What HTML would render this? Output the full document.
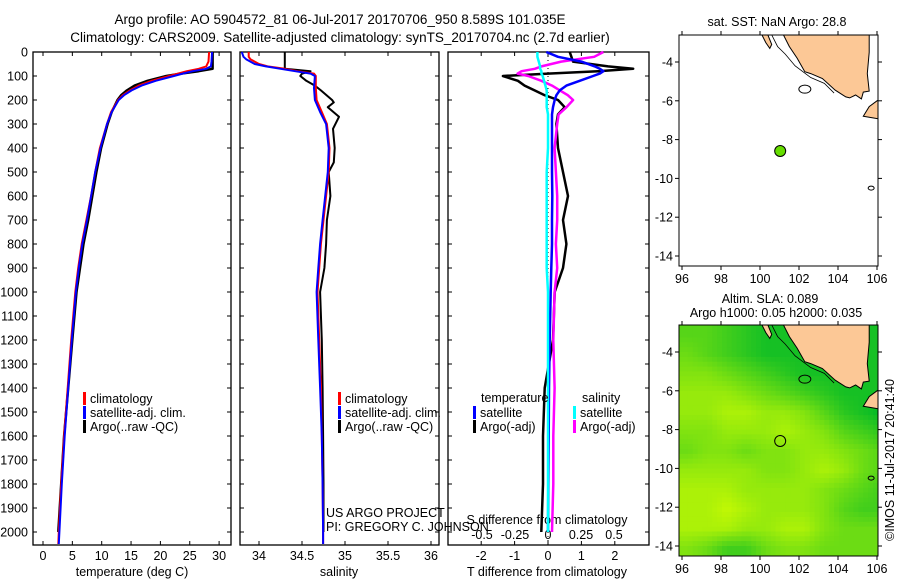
<!DOCTYPE html>
<html><head><meta charset="utf-8"><style>
body{margin:0;background:#fff}
svg{display:block;font-family:"Liberation Sans",sans-serif}
text{fill:#000}
</style></head><body>
<svg id="c" width="900" height="580" viewBox="0 0 900 580" xmlns="http://www.w3.org/2000/svg">
<text x="340" y="24" font-size="13.5" text-anchor="middle">Argo profile: AO 5904572_81 06-Jul-2017 20170706_950 8.589S 101.035E</text>
<text x="340" y="42" font-size="13.5" text-anchor="middle">Climatology: CARS2009. Satellite-adjusted climatology: synTS_20170704.nc (2.7d earlier)</text>
</svg>
<script>
// ---- data ----
const depthTicks=[0,100,200,300,400,500,600,700,800,900,1000,1100,1200,1300,1400,1500,1600,1700,1800,1900,2000];
const tempTicks=[0,5,10,15,20,25,30];
const salTicks=[34,34.5,35,35.5,36];
const tdTicks=[-2,-1,0,1,2];
const sdTicks=[-0.5,-0.25,0,0.25,0.5];
const sdTickLabels=["-0.5","-0.25","0","0.25","0.5"];
const tDepth=[0,40,60,70,80,90,100,120,140,160,180,200,250,300,400,500,600,700,800,900,1000,1200,1400,1600,1800,2000,2050];
const tClim=[28.3,28.2,27.8,26.5,24.5,23,21.5,18.5,16.3,14.8,13.6,12.8,11.6,10.9,9.7,8.9,8.2,7.4,6.6,6.0,5.5,4.8,4.2,3.6,3.1,2.7,2.6];
const tSat=[28.8,28.7,28.6,27.8,25.5,23.8,22.3,19.2,16.8,15.1,13.8,12.9,11.7,10.9,9.8,8.9,8.2,7.5,6.7,6.1,5.6,4.9,4.3,3.7,3.2,2.8,2.7];
const tArgoDepth=[0,40,60,70,80,90,100,120,140,160,180,200,250,300,400,500,600,700,800,900,1000,1200,1400,1600,1800,2000];
const tArgo=[28.9,28.9,28.9,28.9,26.5,23.5,21.0,17.8,15.6,14.3,13.3,12.7,11.7,11.0,9.9,9.1,8.4,7.7,6.9,6.3,5.7,5.0,4.3,3.6,3.1,2.6];
const sDepth=[0,20,30,50,60,70,80,90,100,150,200,250,300,400,500,600,700,800,900,1000,1200,1400,1600,1800,2000,2050];
const sClim=[33.88,33.88,33.9,34.0,34.1,34.3,34.45,34.64,34.66,34.66,34.67,34.73,34.79,34.82,34.81,34.78,34.75,34.72,34.70,34.68,34.70,34.72,34.73,34.74,34.745,34.745];
const sSat=[33.8,33.82,33.85,33.95,34.08,34.25,34.42,34.6,34.65,34.64,34.65,34.71,34.78,34.81,34.8,34.77,34.74,34.71,34.69,34.67,34.69,34.71,34.73,34.74,34.745,34.745];
const sArgoDepth=[0,60,70,80,90,100,120,140,160,200,210,230,270,320,400,460,500,600,700,800,900,1000,1200,1400,1600,1800,2000];
const sArgo=[34.3,34.3,34.3,34.6,34.5,34.48,34.55,34.65,34.72,34.85,34.87,34.8,34.93,34.86,34.88,34.87,34.81,34.83,34.79,34.78,34.76,34.71,34.73,34.74,34.745,34.75,34.75];
const dDepth=[0,20,40,60,70,80,90,100,120,140,160,180,200,230,260,300,400,500,600,700,800,900,1000,1200,1400,1600,1800,2000];
const dTsat=[-0.05,0.3,1.0,1.4,1.55,1.66,1.55,1.35,0.95,0.55,0.35,0.25,0.2,0.15,0.12,0.12,0.12,0.12,0.13,0.12,0.12,0.1,0.08,0.05,0.03,0.02,0.01,0.0];
const dTargo=[0.65,0.7,0.75,1.8,2.55,1.5,0,-1.35,-0.9,-0.7,-0.4,-0.1,0.3,0.5,0.3,0.25,0.3,0.45,0.6,0.45,0.55,0.45,0.2,0.15,-0.1,-0.15,-0.15,-0.2];
const dSsat=[-0.08,-0.08,-0.07,-0.06,-0.06,-0.05,-0.05,-0.04,-0.03,-0.02,-0.01,-0.01,-0.01,-0.01,0,0,0,-0.01,-0.01,-0.01,-0.01,-0.01,0,0,0,0,0,0];
const dSargo=[0.42,0.35,0.1,-0.05,-0.1,-0.2,-0.23,-0.15,-0.05,0.03,0.09,0.15,0.19,0.14,0.08,0.07,0.05,0.06,0.07,0.07,0.06,0.07,0.05,0.04,0.05,0.04,0.04,0.03];
const lonTicks=[96,98,100,102,104,106];
const latTicks=[-4,-6,-8,-10,-12,-14];
const argoLon=101.035, argoLat=-8.589;
const slaGrid=[
[0.4,0.4,0.3,0.2,0.1,0.1,0.1,0.1,0.1,0.1,0.1],
[0.5,0.4,0.3,0.2,0.1,0.1,0.1,0.1,0.1,0.1,0.1],
[0.6,0.6,0.5,0.4,0.3,0.2,0.1,0.1,0.1,0.1,0.1],
[0.7,0.7,0.7,0.6,0.5,0.4,0.3,0.2,0.1,0.1,0.1],
[0.7,0.7,0.8,0.8,0.7,0.7,0.6,0.4,0.2,0.1,0.0],
[0.6,0.6,0.7,0.7,0.7,0.8,0.7,0.6,0.4,0.3,0.2],
[0.5,0.6,0.6,0.5,0.6,0.6,0.7,0.7,0.6,0.5,0.4],
[0.7,0.7,0.7,0.7,0.6,0.6,0.7,0.8,0.7,0.5,0.4],
[0.8,0.8,0.8,0.7,0.7,0.7,0.7,0.6,0.5,0.4,0.3],
[0.8,0.8,0.9,0.8,0.7,0.7,0.7,0.6,0.4,0.3,0.3],
[0.8,0.8,0.8,0.7,0.7,0.8,0.8,0.6,0.5,0.5,0.5],
[0.6,0.5,0.3,0.3,0.5,0.6,0.6,0.5,0.5,0.5,0.5]];
const landLonLat=[[101.2,-2.6],[105.6,-2.6],[105.6,-3.5],[105.5,-4.6],[105.6,-5.5],[105.3,-5.55],[105.2,-5.9],[104.9,-5.7],[104.6,-5.85],[104.4,-5.8],[103.85,-5.45],[103.2,-4.85],[102.6,-4.6],[102.3,-4.5],[101.9,-3.8],[101.5,-3.2],[101.2,-2.6]];
const javaLonLat=[[106.2,-5.9],[106.2,-6.95],[105.9,-6.9],[105.3,-6.8],[105.6,-6.3],[106.0,-6.0]];
const islandLonLat=[[100.1,-2.6],[100.4,-2.6],[100.6,-3.1],[100.5,-3.3],[100.3,-3.0]];

const svg=document.getElementById('c');
const NS='http://www.w3.org/2000/svg';
function mk(tag,attrs,parent){const e=document.createElementNS(NS,tag);for(const k in attrs)e.setAttribute(k,attrs[k]);(parent||svg).appendChild(e);return e;}
function txt(x,y,s,size,anchor,parent){const t=mk('text',{x:x,y:y,'font-size':size||12,'text-anchor':anchor||'middle'},parent);t.textContent=s;return t;}

// ---- profile panels ----
const yTop=52, yPx=0.24;
const Y=d=>yTop+d*yPx;
const panels=[
 {name:'temperature',l:33,r:231,x:v=>43+5.87*v,ticks:tempTicks},
 {name:'salinity',l:240,r:439,x:v=>259+86*(v-34),ticks:salTicks},
 {name:'difference',l:448,r:649,x:v=>548+33.4*v,ticks:tdTicks}];
const bottom=545;
panels.forEach((p,i)=>{
  const g=mk('g',{});
  
  
  const fr=mk('rect',{x:p.l,y:yTop,width:p.r-p.l,height:bottom-yTop,fill:'none',stroke:'#000','stroke-width':1.3},g);
  
  
  p.ticks.forEach(t=>{const x=p.x(t);
    mk('line',{x1:x,x2:x,y1:yTop,y2:yTop+4,stroke:'#000'},g);
    mk('line',{x1:x,x2:x,y1:bottom,y2:bottom-4,stroke:'#000'},g);
    const lb=txt(x,560,String(t),12.5,'middle',g);
    
    
  });
  depthTicks.forEach(d=>{
    mk('line',{x1:p.l,x2:p.l+4,y1:Y(d),y2:Y(d),stroke:'#000'},g);
    mk('line',{x1:p.r,x2:p.r-4,y1:Y(d),y2:Y(d),stroke:'#000'},g);
  });
  p.g=g;
});
depthTicks.forEach(d=>{const t=txt(28,Y(d)+4.5,String(d),12.5,'end');
  
  });
let t;
t=txt(132,576,'temperature (deg C)',12.5);
t=txt(339,576,'salinity',12.5);
t=txt(547,576,'T difference from climatology',12.5);
t=txt(547,524,'S difference from climatology',12.5);
sdTicks.forEach((s,i)=>{const tt=txt(548+132*s,539,sdTickLabels[i],12.5);
  
  });
const zl=mk('line',{x1:548,x2:548,y1:yTop,y2:bottom,stroke:'#000','stroke-dasharray':'1 3'});



function series(depths,vals,xf,color,w,name){
  let d='';const n=Math.min(depths.length,vals.length);
  for(let i=0;i<n;i++){d+=(i?'L':'M')+xf(vals[i]).toFixed(1)+' '+Y(depths[i]).toFixed(1);}
  const p=mk('path',{d:d,fill:'none',stroke:color,'stroke-width':w,'stroke-linejoin':'round'});
  
  
}
const xT=panels[0].x, xS=panels[1].x, xD=panels[2].x, xSD=v=>548+132*v;
series(tArgoDepth,tArgo,xT,'#000',2.5,'temp-argo-line');
series(tDepth,tClim,xT,'#f00',2,'temp-climatology-line');
series(tDepth,tSat,xT,'#00f',2,'temp-satellite-line');
series(sArgoDepth,sArgo,xS,'#000',2,'sal-argo-line');
series(sDepth,sClim,xS,'#f00',2,'sal-climatology-line');
series(sDepth,sSat,xS,'#00f',2,'sal-satellite-line');
series(dDepth,dTargo,xD,'#000',2.5,'tdiff-argo-line');
series(dDepth,dSargo,xSD,'#f0f',2.5,'sdiff-argo-line');
series(dDepth,dTsat,xD,'#00f',2.5,'tdiff-satellite-line');
series(dDepth,dSsat,xSD,'#0ff',2.5,'sdiff-satellite-line');

function legend(x,y,color,label,name){
  const g=mk('g',{});
  
  
  mk('rect',{x:x,y:y-11,width:3,height:13,fill:color},g);
  if(label)txt(x+7,y,label,12.5,'start',g);
}
legend(83,403,'#f00','climatology','legend-climatology');
legend(83,417,'#00f','satellite-adj. clim.','legend-satellite');
legend(83,431,'#000','Argo(..raw -QC)','legend-argo');
legend(338,403,'#f00','climatology','legend-sal-climatology');
legend(338,417,'#00f','satellite-adj. clim.','legend-sal-satellite');
legend(338,431,'#000','Argo(..raw -QC)','legend-sal-argo');
t=txt(481,402,'temperature',12.5,'start');
t=txt(582,402,'salinity',12.5,'start');
legend(473,417,'#00f','satellite','legend-tdiff-satellite');
legend(473,431,'#000','Argo(-adj)','legend-tdiff-argo');
legend(573,417,'#0ff','satellite','legend-sdiff-satellite');
legend(573,431,'#f0f','Argo(-adj)','legend-sdiff-argo');
t=txt(326,517,'US ARGO PROJECT',12.5,'start');
t=txt(326,531,'PI: GREGORY C. JOHNSON',12.5,'start');

// ---- maps ----
function slaAt(lat,lon){
  let fi=(-3.1-lat), fj=(lon-96.3);
  fi=Math.max(0,Math.min(slaGrid.length-1,fi)); fj=Math.max(0,Math.min(slaGrid[0].length-1,fj));
  const i0=Math.floor(fi),j0=Math.floor(fj),i1=Math.min(i0+1,slaGrid.length-1),j1=Math.min(j0+1,slaGrid[0].length-1);
  const a=fi-i0,b=fj-j0;
  return slaGrid[i0][j0]*(1-a)*(1-b)+slaGrid[i0][j1]*(1-a)*b+slaGrid[i1][j0]*a*(1-b)+slaGrid[i1][j1]*a*b;
}
function drawMap(top,lat4y,name,heat){
  const L=679,R=878,B=top+231;
  const mx=lon=>682+(lon-96)*19.5, my=lat=>lat4y+(-4-lat)*19.4;
  const g=mk('g',{});
  
  
  const cp='clip'+name;
  const cl=mk('clipPath',{id:cp},g);mk('rect',{x:L,y:top,width:R-L,height:B-top},cl);
  const inner=mk('g',{'clip-path':'url(#'+cp+')'},g);
  mk('rect',{x:L,y:top,width:R-L,height:B-top,fill:'#fff'},inner);
  if(heat){
    const st=0.25;
    for(let lat=-2.5;lat>-14.8;lat-=st){
      for(let lon=95.8;lon<106.4;lon+=st){
        const v=slaAt(lat-st/2,lon+st/2);
        const r=Math.round(215*v),gg=Math.round(185+70*v),b=Math.round(40*(1-v));
        const c=mk('rect',{x:mx(lon).toFixed(1),y:my(lat).toFixed(1),width:5.3,height:5.3,fill:`rgb(${r},${gg},${b})`},inner);
        
        
      }
    }
  }
  const poly=(pts,fill,nm)=>{const p=mk('polygon',{points:pts.map(q=>mx(q[0]).toFixed(1)+','+my(q[1]).toFixed(1)).join(' '),fill:fill,stroke:'#000','stroke-width':1},inner);
    
    };
  poly(landLonLat,'#fcc896','land-sumatra');
  poly(javaLonLat,'#fcc896','land-java');
  poly(islandLonLat,'#fcc896','land-island');
  const cpts=[[100.6,-2.6],[100.9,-3.2],[101.3,-3.6],[101.8,-4.2],[102.6,-4.8],[103.3,-5.1],[103.8,-5.6]];
  mk('polyline',{points:cpts.map(q=>mx(q[0])+','+my(q[1])).join(' '),fill:'none',stroke:'#000','stroke-width':0.8},inner);
  mk('ellipse',{cx:mx(102.3),cy:my(-5.4),rx:6,ry:4,fill:'none',stroke:'#000'},inner);
  mk('ellipse',{cx:mx(105.7),cy:my(-10.5),rx:3,ry:2,fill:'none',stroke:'#000'},inner);
  const dot=mk('circle',{cx:mx(argoLon),cy:my(argoLat),r:5.5,fill:heat?'none':'#66dd00',stroke:'#000'},inner);
  
  
  mk('rect',{x:L,y:top,width:R-L,height:B-top,fill:'none',stroke:'#000'},g);
  lonTicks.forEach(v=>{const x=mx(v);
    mk('line',{x1:x,x2:x,y1:top,y2:top-4,stroke:'#000'},g);
    mk('line',{x1:x,x2:x,y1:B,y2:B+4,stroke:'#000'},g);
    const l=txt(x,B+17,String(v),12.5,'middle',g);
    
    });
  latTicks.forEach(v=>{const y=my(v);
    mk('line',{x1:L,x2:L-4,y1:y,y2:y,stroke:'#000'},g);
    mk('line',{x1:R,x2:R+4,y1:y,y2:y,stroke:'#000'},g);
    const l=txt(673,y+4.5,String(v),12.5,'end',g);
    
    });
}
drawMap(35,62,'sst-map',false);
drawMap(325,352,'sla-map',true);
t=txt(777,26,'sat. SST: NaN Argo: 28.8',12.5);
t=txt(770,303,'Altim. SLA: 0.089',12.5);
t=txt(776,317,'Argo h1000: 0.05 h2000: 0.035',12.5);
t=txt(0,0,'©IMOS 11-Jul-2017 20:41:40',12.5);t.setAttribute('transform','translate(894,460) rotate(-90)');


</script>
</body></html>
